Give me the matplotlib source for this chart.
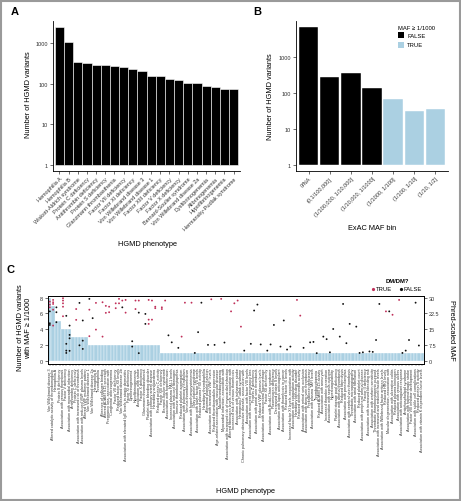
import matplotlib
matplotlib.use('Agg')
import matplotlib.pyplot as plt
from matplotlib.patches import Rectangle
from matplotlib.lines import Line2D
from matplotlib.ticker import NullLocator
import numpy as np

plt.rcParams['font.family'] = ['Liberation Sans', 'DejaVu Sans']

W, H = 461, 502
BLUE = '#abd0e2'
PINK = '#c0305a'

# ---- panel A data
a_phenotypes = ['Hemophilia A', 'Hemophilia B', 'Wiskott-Aldrich syndrome', 'Protein C deficiency',
                'Antithrombin deficiency', 'Protein S deficiency', 'Glanzmann thrombasthenia',
                'Factor VII deficiency', 'Factor XI deficiency', 'Von Willebrand disease 3',
                'Von Willebrand disease 1', 'Factor XIII deficiency', 'Factor V deficiency',
                'Factor X deficiency', 'Bernard-Soulier syndrome', 'Von Willebrand disease 2a',
                'Dysfibrinogenemia', 'Afibrinogenemia', 'Hypofibrinogenemia',
                'Hermansky-Pudlak syndrome']
a_counts = [2510, 1080, 335, 316, 283, 283, 272, 262, 229, 208,
            149, 149, 128, 121, 102, 102, 89, 81, 75, 72]

# ---- panel B data
b_bins = ['0/NA', '(0,1/100,000]', '(1/100,000, 1/10,000]', '(1/10,000, 1/1000]',
          '(1/1000, 1/100]', '(1/100, 1/10]', '(1/10, 1/2]']
b_counts = [6950, 290, 375, 140, 68, 32, 37]
b_common = [False, False, False, False, True, True, True]

# ---- panel C data
c_phenotypes = [
    'Von Willebrand disease 3', 'Altered catalytic activity of thrombomodulin', 'Hemophilia A',
    'Protein S deficiency', 'Association with venous thrombosis', 'Factor V deficiency',
    'Association with myocardial infarction', 'Antithrombin deficiency', 'Protein C deficiency',
    'Association with increased risk of thrombosis', 'Association with reduced VWF plasma levels',
    'Altered VWF multimer pattern', 'Von Willebrand disease 1', 'Von Willebrand disease 2a',
    'Hemophilia B', 'Thrombophilia', 'Absence of collagen binding', 'Altered ADAMTS13 secretion',
    'Pregnancy loss, association with', 'Congenital afibrinogenemia', 'Factor VII deficiency',
    'Reduced factor XII levels', 'Von Willebrand disease 2b',
    'Association with elevated IgE levels in atopic dermatitis', 'Factor XI deficiency',
    'Dysfibrinogenemia', 'Hypofibrinogenemia', 'Association with stroke', 'Factor X deficiency',
    'Glanzmann thrombasthenia', 'Platelet-type bleeding disorder',
    'Association with coronary artery disease', 'Hereditary angioedema',
    'Reduced protein C activity', 'Factor XIII deficiency', 'Bernard-Soulier syndrome',
    'Association with hypertension', 'Increased plasma PAI-1 levels',
    'Association with reduced fibrinogen', 'Immune thrombocytopenia',
    'Reduced platelet aggregation', 'Association with pulmonary embolism',
    'Venous thromboembolism', 'Association with hyperhomocysteinemia', 'Gray platelet syndrome',
    'Association with lower factor VII levels', 'Reduced plasma FXII activity',
    'Hereditary thrombophilia', 'Abnormal platelet function',
    'Association with increased VWF levels', 'Reduced thrombomodulin expression',
    'Age-related association with vascular disease', 'Macrothrombocytopenia',
    'Myocardial infarction, association with',
    'Association with increased risk of myocardial infarction',
    'Altered fibrinogen levels, association with', 'Increased risk of venous thrombosis',
    'Association with ischaemic stroke', 'Hermansky-Pudlak syndrome',
    'Chronic pulmonary obstructive disease, association with',
    'Association with factor VIII levels', 'Association with recurrent pregnancy loss',
    'Protein Z deficiency', 'Association with portal vein thrombosis',
    'Reduced VWF plasma levels', 'Association with intracerebral haemorrhage',
    'Factor XII deficiency', 'Association with Budd-Chiari syndrome', 'Plasminogen deficiency',
    'Decreased protein S levels', 'Association with lupus anticoagulant',
    'Association with thrombosis in cancer', 'Reduced factor IX levels',
    'Increased factor XI levels, association with', 'Association with coagulation activity',
    'Hereditary bleeding disorder', 'Reduced antithrombin activity',
    'Association with retinal vein occlusion', 'Association with deep vein thrombosis',
    'Prekallikrein deficiency', 'Association with plasma TAFI levels', 'Thrombocytopenia',
    'Reduced ADAMTS13 activity', 'Association with aneurysm', 'Increased thrombin generation',
    'Association with sepsis outcome', 'Hypercoagulability', 'Platelet storage pool deficiency',
    'Association with arterial thrombosis', 'Reduced fibrinolysis',
    'Association with preeclampsia', 'Association with cerebral vein thrombosis',
    'Thrombotic microangiopathy', 'Association with atrial fibrillation',
    'Reduced platelet count', 'Association with peripheral arterial disease',
    'Factor II deficiency', 'Association with increased bleeding risk',
    'Association with warfarin sensitivity', 'Thrombotic thrombocytopenic purpura',
    'Association with increased and reduced factor levels',
    'Association with Willebrand factor antigen levels', 'Reduced HRG levels',
    'Macular degeneration, association with', 'Association with ulcerative colitis',
    'Reduced plasma kininogen', 'Association with venous ulcers',
    'Association with anticoagulant response', 'Antiphospholipid syndrome',
    'Association with haemorrhagic stroke', 'Factor VIII inhibitor development',
    'Association with sickle cell complications', 'Reduced protein S activity',
    'Association with vitamin K dependent factor levels']
c_counts = [8, 7, 5, 5, 4, 4, 4, 3, 3, 3, 3, 3,
            2, 2, 2, 2, 2, 2, 2, 2, 2, 2, 2, 2, 2, 2, 2, 2, 2, 2, 2, 2, 2, 2,
            1, 1, 1, 1, 1, 1, 1, 1, 1, 1, 1, 1, 1, 1, 1, 1, 1, 1, 1, 1,
            1, 1, 1, 1, 1, 1, 1, 1, 1, 1, 1, 1, 1, 1, 1, 1, 1, 1, 1, 1,
            1, 1, 1, 1, 1, 1, 1, 1, 1, 1, 1, 1, 1, 1, 1, 1, 1, 1, 1, 1,
            1, 1, 1, 1, 1, 1, 1, 1, 1, 1, 1, 1, 1, 1, 1, 1, 1, 1, 1, 1]

# individual variants: phenotype index, phred-scaled MAF, DM/DM? (1 = TRUE)
pt_cat = [0, 0, 0, 0, 0, 0, 1, 1, 1, 1, 1, 2, 2, 2, 4, 4, 4, 4, 4, 5, 5, 5, 5,
          6, 6, 6, 6, 8, 8, 9, 9, 10, 10, 10, 12, 12, 12, 13, 14, 14, 16, 16, 17, 17,
          18, 18, 20, 20, 21, 21, 22, 22, 23, 23, 25, 25, 26, 26, 27, 27, 27, 29, 29, 30, 30, 30,
          31, 31, 32, 32, 34, 34, 35, 36, 37,
          39, 40, 41, 43, 44, 45, 46, 48, 49, 50, 52, 53,
          55, 56, 57, 58, 59, 61, 62, 63, 64, 66, 67, 68, 70, 71, 72, 73,
          75, 76, 77, 79, 80, 81, 83, 84, 85, 86, 88, 89, 90, 91, 93, 94,
          95, 97, 98, 99, 100, 102, 103, 104, 106, 107, 108, 109, 111, 112]
pt_phred = [28.1, 26.7, 25.4, 23.5, 17.9, 17.1, 28.9, 27.8, 27.0, 24.3, 16.8, 25.4, 23.1, 18.4,
            29.7, 28.6, 27.3, 25.7, 21.2, 21.4, 8.2, 5.0, 3.9,
            16.8, 12.4, 10.8, 4.9, 24.6, 19.5, 27.5, 7.5, 19.2, 9.7, 5.8, 29.4, 24.3, 11.8, 20.3,
            27.5, 14.9, 27.8, 11.6, 26.1, 22.8,
            25.7, 23.1, 27.3, 25.0, 29.4, 27.3, 28.6, 25.4, 28.9, 22.9, 9.4, 6.9, 28.6, 24.6,
            28.6, 22.9, 3.8, 22.3, 17.6, 28.9, 19.6, 17.6,
            28.6, 19.6, 25.7, 25.0, 25.4, 24.6, 28.6, 12.2, 8.9,
            6.3, 11.6, 27.6, 27.6, 3.9, 13.7, 27.6, 7.7, 29.2, 7.7, 29.4, 8.8,
            23.5, 27.3, 28.6, 16.3, 5.0, 8.2, 23.9, 26.7, 7.9, 5.0, 7.9, 17.1, 6.9, 19.2, 5.5, 6.9,
            28.9, 21.5, 6.3, 8.9, 9.1, 3.8, 11.6, 10.4, 4.2, 15.2, 11.6, 27.0, 8.5, 17.6, 16.3, 3.9,
            4.2, 4.6, 4.4, 10.0, 27.0, 23.5, 23.5, 21.9, 28.9, 3.9, 5.0, 10.0, 27.6, 7.4]
pt_dm = [1, 1, 1, 0, 0, 0, 1, 1, 1, 1, 1, 0, 0, 0, 1, 1, 1, 1, 1, 0, 0, 0, 0,
         0, 0, 0, 0, 1, 1, 0, 0, 0, 0, 0, 0, 1, 1, 0, 1, 1, 1, 1, 1, 1,
         1, 1, 1, 1, 1, 1, 1, 0, 1, 1, 0, 0, 1, 1, 1, 0, 0, 0, 0, 1, 1, 1,
         1, 1, 1, 1, 1, 1, 1, 0, 0,
         0, 1, 1, 1, 0, 0, 0, 0, 1, 0, 1, 0,
         1, 1, 1, 1, 0, 0, 0, 0, 0, 0, 0, 0, 0, 0, 0, 0,
         1, 1, 0, 0, 0, 0, 0, 0, 0, 0, 0, 0, 0, 0, 0, 0,
         0, 0, 0, 0, 0, 1, 0, 1, 1, 0, 0, 0, 0, 0]


def box(l, t, r, b):
    return [l / W, 1 - b / H, (r - l) / W, (b - t) / H]


def classic(ax):
    for s in ['top', 'right']:
        ax.spines[s].set_visible(False)
    for s in ['left', 'bottom']:
        ax.spines[s].set_linewidth(0.6)
    ax.tick_params(length=2, width=0.5, labelsize=4, pad=1.5, colors='#333333')


fig = plt.figure(figsize=(W / 100, H / 100), dpi=100)

# ---------------- A
axA = fig.add_axes(box(53, 22, 240, 172))
xa = np.arange(len(a_counts))
axA.bar(xa, np.array(a_counts) - 1, bottom=1, width=1, color='black',
        edgecolor='white', linewidth=0.4)
axA.set_yscale('log')
axA.set_ylim(10 ** -0.155, 10 ** 3.54)
axA.set_xlim(-0.7, len(a_counts) - 0.3)
axA.set_yticks([1, 10, 100, 1000])
axA.set_yticklabels(['1', '10', '100', '1000'])
axA.yaxis.set_minor_locator(NullLocator())
axA.set_xticks(xa)
axA.set_xticklabels(a_phenotypes, rotation=45, ha='right', rotation_mode='anchor', fontsize=3.7)
classic(axA)
fig.text(28 / W, 1 - 95 / H, 'Number of HGMD variants', rotation=90, ha='center', va='center', fontsize=5.3)
fig.text(147 / W, 1 - 245 / H, 'HGMD phenotype', ha='center', va='center', fontsize=5.3)
fig.text(15 / W, 1 - 12 / H, 'A', ha='center', va='center', fontsize=8, fontweight='bold')

# ---------------- B
axB = fig.add_axes(box(296, 22, 448, 172))
xb = np.arange(len(b_counts))
b_cols = [BLUE if c else 'black' for c in b_common]
axB.bar(xb, np.array(b_counts) - 1, bottom=1, width=0.92, color=b_cols,
        edgecolor='white', linewidth=0.3)
axB.set_yscale('log')
axB.set_ylim(10 ** -0.17, 10 ** 4.01)
axB.set_xlim(-0.6, len(b_counts) - 0.4)
axB.set_yticks([1, 10, 100, 1000])
axB.set_yticklabels(['1', '10', '100', '1000'])
axB.yaxis.set_minor_locator(NullLocator())
axB.set_xticks(xb)
axB.set_xticklabels(b_bins, rotation=45, ha='right', rotation_mode='anchor', fontsize=3.7)
classic(axB)
fig.text(270 / W, 1 - 97 / H, 'Number of HGMD variants', rotation=90, ha='center', va='center', fontsize=5.3)
fig.text(372 / W, 1 - 229 / H, 'ExAC MAF bin', ha='center', va='center', fontsize=5.3)
fig.text(257 / W, 1 - 12 / H, 'B', ha='center', va='center', fontsize=8, fontweight='bold')

# legend B
fig.text(398 / W, 1 - 28 / H, 'MAF \u2265 1/1000', ha='left', va='center', fontsize=4.2)
for j, (lab, col) in enumerate([('FALSE', 'black'), ('TRUE', BLUE)]):
    yc = 36 + j * 9.5
    fig.add_artist(Rectangle((398 / W, 1 - (yc + 3) / H), 6 / W, 6 / H,
                             transform=fig.transFigure, facecolor=col, edgecolor='none'))
    fig.text(407 / W, 1 - yc / H, lab, ha='left', va='center', fontsize=4.2)

# ---------------- C
axC = fig.add_axes(box(48, 297, 424, 365))
xc = np.arange(len(c_counts))
axC.bar(xc, c_counts, width=1, color=BLUE, edgecolor='white', linewidth=0.25)
axC.set_xlim(-0.55, len(c_counts) - 0.45)
axC.set_ylim(-0.35, 8.2)
axC.set_yticks([0, 2, 4, 6, 8])
axC.set_xticks(xc)
axC.set_xticklabels(c_phenotypes, rotation=90, ha='center', va='top', fontsize=2.7)
for s in axC.spines.values():
    s.set_linewidth(0.6)
axC.tick_params(length=2, width=0.5, labelsize=4, pad=1.5, colors='#333333')
axC.tick_params(axis='x', length=1.5, width=0.3, labelsize=2.7, pad=1)

axC2 = axC.twinx()
axC2.set_ylim(-0.35 * 3.75, 8.2 * 3.75)
axC2.set_yticks([0, 7.5, 15, 22.5, 30])
axC2.set_yticklabels(['0', '7.5', '15', '22.5', '30'])
axC2.tick_params(length=2, width=0.5, labelsize=4, pad=1.5, colors='#333333')
for s in axC2.spines.values():
    s.set_linewidth(0.6)
pc = [PINK if d else '#111111' for d in pt_dm]
axC2.scatter(pt_cat, pt_phred, s=1.8, c=pc, linewidths=0, zorder=3)

fig.text(21 / W, 1 - 328 / H, 'Number of HGMD variants', rotation=90, ha='center', va='center', fontsize=5.3)
fig.text(29 / W, 1 - 328 / H, 'with MAF \u2265 1/1000', rotation=90, ha='center', va='center', fontsize=5.3)
fig.text(451 / W, 1 - 330 / H, 'Phred-scaled MAF', rotation=270, ha='center', va='center', fontsize=5.3)
fig.text(246 / W, 1 - 492 / H, 'HGMD phenotype', ha='center', va='center', fontsize=5.3)
fig.text(10 / W, 1 - 270 / H, 'C', ha='center', va='center', fontsize=8, fontweight='bold')

# legend C
fig.text(397 / W, 1 - 282 / H, 'DM/DM?', ha='center', va='center', fontsize=4.2, fontweight='bold')
for xd, lab, col in [(372.5, 'TRUE', PINK), (400.5, 'FALSE', '#111111')]:
    fig.add_artist(Line2D([xd / W], [1 - 289.5 / H], transform=fig.transFigure, marker='o',
                          markersize=1.3, color=col, linestyle='none'))
    fig.text((xd + 3) / W, 1 - 289.5 / H, lab, ha='left', va='center', fontsize=4.2)

# frame around the whole figure
fig.add_artist(Rectangle((0.5 / W, 1.5 / H), (W - 2) / W, (H - 3) / H, transform=fig.transFigure,
                         facecolor='none', edgecolor='#9a9a9a', linewidth=1.5))

fig.savefig('out.png', dpi=100)
